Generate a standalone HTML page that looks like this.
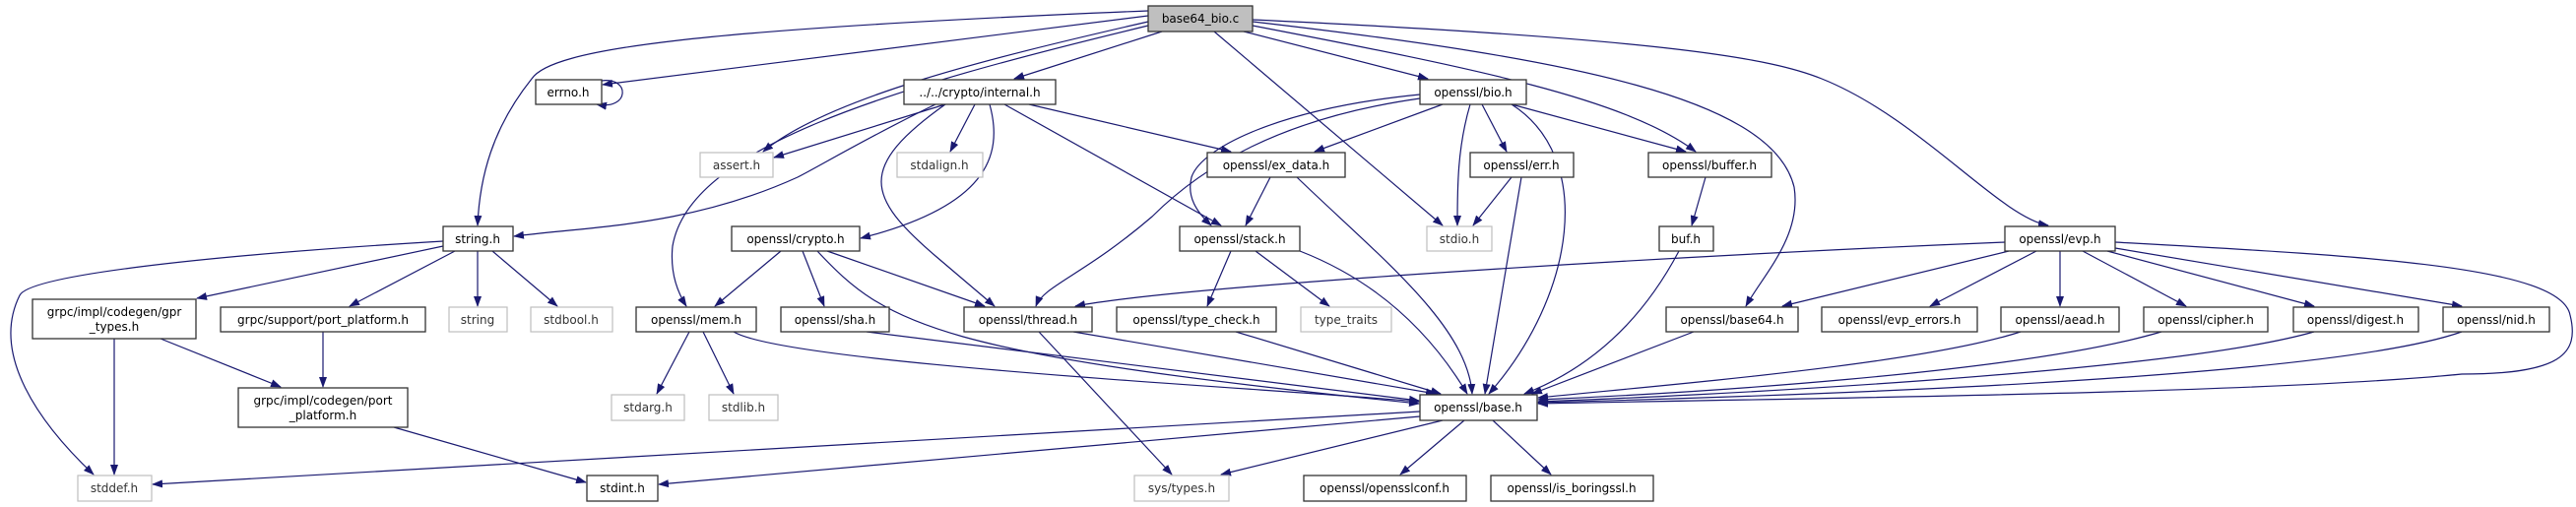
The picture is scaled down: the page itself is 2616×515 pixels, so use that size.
<!DOCTYPE html>
<html><head><meta charset="utf-8"><style>
html,body{margin:0;padding:0;background:#fff}
svg{display:block}
text{font-family:"DejaVu Sans","Liberation Sans",sans-serif;font-size:12px;fill:#000}
.g text{fill:#333}
</style></head><body>
<svg width="2616" height="515" viewBox="0 0 2616 515" xmlns="http://www.w3.org/2000/svg">
<defs><marker id="a" markerWidth="11" markerHeight="8" refX="10" refY="4" orient="auto" markerUnits="userSpaceOnUse"><path d="M0,0 L11,4 L0,8 z" fill="#191970"/></marker></defs>
<g fill="none" stroke="#191970" stroke-width="1.2" marker-end="url(#a)">
<path d="M1166,11 C700,30 560,50 540,80 C500,130 487,180 485,229"/>
<path d="M1166,16 L612,86"/>
<path d="M1166,22 C1000,60 840,100 775,154"/>
<path d="M1166,26 C900,90 700,150 683,250 C680,280 690,300 697,311"/>
<path d="M1180,32 L1030,80"/>
<path d="M1233,32 L1465,229"/>
<path d="M1263,32 L1450,80"/>
<path d="M1272,26 C1500,70 1650,100 1722,154"/>
<path d="M1272,22 C1600,60 1800,100 1822,190 C1830,240 1790,280 1773,311"/>
<path d="M1272,20 C1700,40 1800,60 1850,80 C1950,120 2030,220 2080,229"/>
<path d="M960,106 L786,160"/>
<path d="M950,106 C880,140 830,170 810,180 C700,230 600,230 522,240"/>
<path d="M990,106 L965,154"/>
<path d="M1005,106 C1020,160 1000,210 874,242"/>
<path d="M960,106 C870,170 880,200 950,260 L1010,311"/>
<path d="M1020,106 L1240,229"/>
<path d="M1045,106 L1250,154"/>
<path d="M1465,106 L1335,154"/>
<path d="M1442,96 C1300,110 1220,150 1210,180 C1205,200 1215,215 1230,229"/>
<path d="M1442,100 C1300,120 1220,170 1170,220 C1100,280 1060,290 1052,311"/>
<path d="M1493,106 C1480,150 1480,190 1480,229"/>
<path d="M1505,106 L1530,154"/>
<path d="M1535,106 C1620,160 1600,300 1512,400"/>
<path d="M1535,106 L1712,154"/>
<path d="M1290,180 L1265,229"/>
<path d="M1317,180 C1400,260 1490,330 1495,400"/>
<path d="M1535,180 L1496,229"/>
<path d="M1545,180 L1508,400"/>
<path d="M1732,180 L1718,229"/>
<path d="M1705,255 C1660,340 1600,380 1548,400"/>
<path d="M793,255 L726,311"/>
<path d="M815,255 L837,311"/>
<path d="M840,255 L1000,311"/>
<path d="M830,255 C900,330 950,360 1441,410"/>
<path d="M450,250 L200,303"/>
<path d="M462,255 L355,311"/>
<path d="M485,255 L485,311"/>
<path d="M500,255 L566,311"/>
<path d="M450,245 C200,260 30,280 20,300 C-10,360 40,430 95,482"/>
<path d="M116,344 L116,482"/>
<path d="M163,344 L285,393"/>
<path d="M328,337 L328,393"/>
<path d="M400,434 L595,490"/>
<path d="M700,337 L667,400"/>
<path d="M714,337 L745,400"/>
<path d="M745,337 C800,370 1300,395 1441,408"/>
<path d="M880,337 L1441,407"/>
<path d="M1090,337 L1458,400"/>
<path d="M1055,337 L1190,482"/>
<path d="M1255,337 L1463,400"/>
<path d="M1250,255 L1226,311"/>
<path d="M1275,255 L1350,311"/>
<path d="M1320,255 C1410,290 1460,350 1490,400"/>
<path d="M2036,246 C1700,260 1200,290 1092,311"/>
<path d="M2040,255 L1810,311"/>
<path d="M2068,255 L1960,311"/>
<path d="M2092,255 L2092,311"/>
<path d="M2115,255 L2220,311"/>
<path d="M2140,255 L2350,311"/>
<path d="M2148,252 L2500,311"/>
<path d="M2148,246 C2400,260 2600,270 2610,320 C2620,360 2600,380 2500,380 C2300,400 1800,405 1562,410"/>
<path d="M1720,337 L1556,400"/>
<path d="M2052,337 C1950,370 1700,390 1562,404"/>
<path d="M2195,337 C2050,380 1700,400 1562,406"/>
<path d="M2350,337 C2200,380 1700,403 1562,408"/>
<path d="M2500,337 C2350,390 1700,405 1562,409"/>
<path d="M1442,418 L155,492"/>
<path d="M1442,423 L669,492"/>
<path d="M1465,427 L1240,482"/>
<path d="M1487,427 L1422,482"/>
<path d="M1516,427 L1575,482"/>
<path d="M611,82 C640,78 640,112 606,106"/>
</g>
<g stroke="#333" stroke-width="1.3" fill="#fff">
<rect x="1166" y="6" width="106" height="26" fill="#bfbfbf"/>
<rect x="544" y="81" width="67" height="25"/>
<rect x="918" y="81" width="154" height="25"/>
<rect x="1442" y="81" width="108" height="25"/>
<rect x="1226" y="155" width="140" height="25"/>
<rect x="1493" y="155" width="105" height="25"/>
<rect x="1674" y="155" width="125" height="25"/>
<rect x="450" y="230" width="71" height="25"/>
<rect x="743" y="230" width="130" height="25"/>
<rect x="1198" y="230" width="122" height="25"/>
<rect x="1685" y="230" width="55" height="25"/>
<rect x="2036" y="230" width="112" height="25"/>
<rect x="33" y="304" width="166" height="40"/>
<rect x="224" y="312" width="208" height="25"/>
<rect x="646" y="312" width="122" height="25"/>
<rect x="793" y="312" width="110" height="25"/>
<rect x="979" y="312" width="130" height="25"/>
<rect x="1134" y="312" width="162" height="25"/>
<rect x="1692" y="312" width="134" height="25"/>
<rect x="1850" y="312" width="158" height="25"/>
<rect x="2032" y="312" width="120" height="25"/>
<rect x="2177" y="312" width="126" height="25"/>
<rect x="2329" y="312" width="127" height="25"/>
<rect x="2481" y="312" width="108" height="25"/>
<rect x="242" y="394" width="172" height="40"/>
<rect x="1442" y="401" width="119" height="26"/>
<rect x="596" y="483" width="72" height="26"/>
<rect x="1324" y="483" width="165" height="26"/>
<rect x="1514" y="483" width="165" height="26"/>
</g>
<g stroke="#bfbfbf" stroke-width="1.2" fill="#fff">
<rect x="711" y="155" width="74" height="25"/>
<rect x="911" y="155" width="87" height="25"/>
<rect x="456" y="312" width="59" height="25"/>
<rect x="539" y="312" width="83" height="25"/>
<rect x="1321" y="312" width="92" height="25"/>
<rect x="1449" y="230" width="66" height="25"/>
<rect x="621" y="401" width="74" height="26"/>
<rect x="720" y="401" width="70" height="26"/>
<rect x="79" y="483" width="75" height="26"/>
<rect x="1152" y="483" width="96" height="26"/>
</g>
<g text-anchor="middle">
<text x="1219" y="23">base64_bio.c</text>
<text x="577" y="98">errno.h</text>
<text x="995" y="98">../../crypto/internal.h</text>
<text x="1496" y="98">openssl/bio.h</text>
<text x="1296" y="172">openssl/ex_data.h</text>
<text x="1545" y="172">openssl/err.h</text>
<text x="1736" y="172">openssl/buffer.h</text>
<text x="485" y="247">string.h</text>
<text x="808" y="247">openssl/crypto.h</text>
<text x="1259" y="247">openssl/stack.h</text>
<text x="1712" y="247">buf.h</text>
<text x="2092" y="247">openssl/evp.h</text>
<text x="116" y="321">grpc/impl/codegen/gpr</text>
<text x="116" y="336">_types.h</text>
<text x="328" y="329">grpc/support/port_platform.h</text>
<text x="707" y="329">openssl/mem.h</text>
<text x="848" y="329">openssl/sha.h</text>
<text x="1044" y="329">openssl/thread.h</text>
<text x="1215" y="329">openssl/type_check.h</text>
<text x="1759" y="329">openssl/base64.h</text>
<text x="1929" y="329">openssl/evp_errors.h</text>
<text x="2092" y="329">openssl/aead.h</text>
<text x="2240" y="329">openssl/cipher.h</text>
<text x="2392" y="329">openssl/digest.h</text>
<text x="2535" y="329">openssl/nid.h</text>
<text x="328" y="411">grpc/impl/codegen/port</text>
<text x="328" y="426">_platform.h</text>
<text x="1501" y="418">openssl/base.h</text>
<text x="632" y="500">stdint.h</text>
<text x="1406" y="500">openssl/opensslconf.h</text>
<text x="1596" y="500">openssl/is_boringssl.h</text>
</g>
<g text-anchor="middle" class="g">
<text x="748" y="172">assert.h</text>
<text x="954" y="172">stdalign.h</text>
<text x="485" y="329">string</text>
<text x="580" y="329">stdbool.h</text>
<text x="1367" y="329">type_traits</text>
<text x="1482" y="247">stdio.h</text>
<text x="658" y="418">stdarg.h</text>
<text x="755" y="418">stdlib.h</text>
<text x="116" y="500">stddef.h</text>
<text x="1200" y="500">sys/types.h</text>
</g>
</svg>
</body></html>
